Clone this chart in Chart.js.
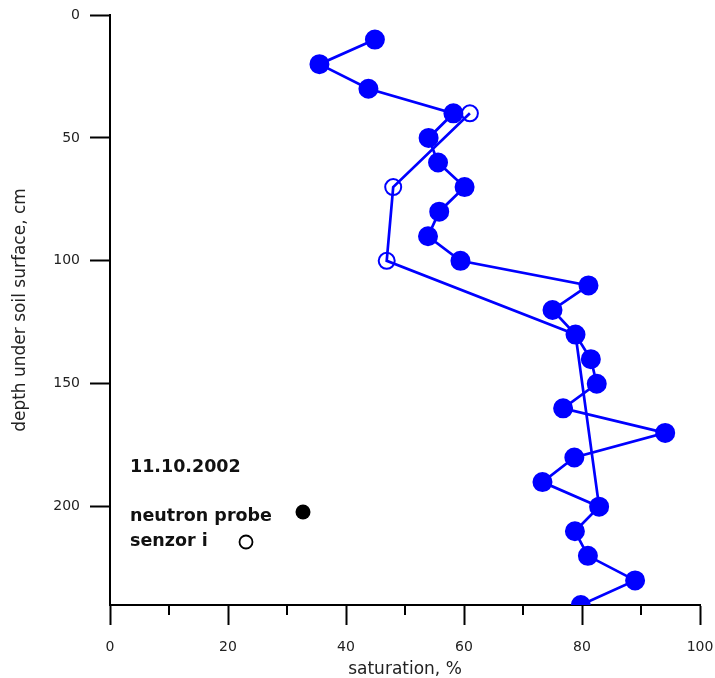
<!DOCTYPE html>
<html>
<head>
<meta charset="utf-8">
<script src="https://cdn.jsdelivr.net/npm/chart.js@4"></script>
<style>
  html, body { margin: 0; padding: 0; background: #fff; }
  #wrap { width: 715px; height: 678px; }
</style>
</head>
<body>
<div id="wrap"><canvas id="chart"></canvas></div>
<script>
// depth (cm) and saturation (%)
let probeDepth = [10, 20, 30, 40, 50, 60, 70, 80, 90, 100, 110, 120, 130, 140, 150, 160, 170, 180, 190, 200, 210, 220, 230, 240];
let probeSat = [44.9, 35.5, 43.8, 58.2, 54.0, 55.6, 60.1, 55.8, 53.9, 59.4, 81.1, 75.0, 78.9, 81.5, 82.5, 76.8, 94.1, 78.7, 73.3, 82.9, 78.8, 81.0, 89.0, 79.8];
let sensorDepth = [40, 70, 100, 130, 200];
let sensorSat = [61.0, 48.0, 46.9, 78.9, 82.9];
let minorTicks = [10, 30, 50, 70, 90];
let dateLabel = "11.10.2002";
let probeLabel = "neutron probe";
let sensorLabel = "senzor i";

let blue = "#0000ff";

function toPoints(xs, ys) {
  let pts = [];
  for (let i = 0; i < xs.length; i++) {
    pts.push({ x: xs[i], y: ys[i] });
  }
  return pts;
}

// short ticks between the labelled ones on the x axis
let minorTickPlugin = {
  id: "minorTicks",
  afterDraw(chart) {
    let ctx = chart.ctx;
    let xs = chart.scales.x;
    let y0 = chart.chartArea.bottom;
    ctx.save();
    ctx.strokeStyle = "#000";
    ctx.lineWidth = 2;
    minorTicks.forEach(v => {
      let px = Math.round(xs.getPixelForValue(v));
      ctx.beginPath();
      ctx.moveTo(px, y0);
      ctx.lineTo(px, y0 + 10);
      ctx.stroke();
    });
    ctx.restore();
  }
};

// the little legend block in the lower left
let noteLegendPlugin = {
  id: "noteLegend",
  afterDraw(chart) {
    let ctx = chart.ctx;
    let left = chart.chartArea.left;
    ctx.save();
    ctx.fillStyle = "#111";
    ctx.textBaseline = "middle";
    ctx.textAlign = "left";
    ctx.font = "bold 17.5px 'DejaVu Sans'";
    ctx.fillText(dateLabel, left + 20, 467);
    ctx.fillText(probeLabel, left + 20, 516);
    ctx.fillText(sensorLabel, left + 20, 541);

    ctx.beginPath();
    ctx.arc(left + 193, 512, 7.5, 0, Math.PI * 2);
    ctx.fillStyle = "#000";
    ctx.fill();

    ctx.beginPath();
    ctx.arc(left + 136, 542, 6.5, 0, Math.PI * 2);
    ctx.strokeStyle = "#000";
    ctx.lineWidth = 1.8;
    ctx.stroke();
    ctx.restore();
  }
};

let myChart = new Chart(document.getElementById("chart"), {
  type: "scatter",
  data: {
    datasets: [
      {
        label: probeLabel,
        data: toPoints(probeSat, probeDepth),
        showLine: true,
        borderColor: blue,
        backgroundColor: blue,
        borderWidth: 2.7,
        pointRadius: 9,
        pointBorderWidth: 2,
        pointBorderColor: blue,
        pointBackgroundColor: blue,
        tension: 0
      },
      {
        label: sensorLabel,
        data: toPoints(sensorSat, sensorDepth),
        showLine: true,
        borderColor: blue,
        backgroundColor: "rgba(0,0,0,0)",
        borderWidth: 2.7,
        pointRadius: 8,
        pointBorderWidth: 2,
        pointBorderColor: blue,
        pointBackgroundColor: "rgba(0,0,0,0)",
        tension: 0
      }
    ]
  },
  options: {
    responsive: true,
    maintainAspectRatio: false,
    animation: false,
    layout: { padding: { top: 15, right: 15, left: 0, bottom: 0 } },
    plugins: {
      legend: { display: false },
      tooltip: { enabled: false }
    },
    scales: {
      x: {
        type: "linear",
        position: "bottom",
        min: 0,
        max: 100,
        afterFit(scale) {
          scale.height = 73;
          scale.paddingLeft = 0;
          scale.paddingRight = 0;
        },
        border: { display: true, color: "#000", width: 2 },
        grid: {
          display: true,
          drawOnChartArea: false,
          drawTicks: true,
          tickLength: 20,
          tickColor: "#000",
          tickWidth: 2
        },
        ticks: {
          stepSize: 20,
          padding: 14,
          color: "#222",
          font: { family: "'DejaVu Sans'", size: 14 },
          maxRotation: 0
        },
        title: {
          display: true,
          text: "saturation, %",
          color: "#222",
          font: { family: "'DejaVu Sans'", size: 17, lineHeight: 1.0 },
          padding: { top: 0, bottom: 0 }
        }
      },
      y: {
        type: "linear",
        position: "left",
        reverse: true,
        min: 0,
        max: 240,
        afterFit(scale) {
          scale.width = 110;
          scale.paddingTop = 0;
          scale.paddingBottom = 0;
        },
        border: { display: true, color: "#000", width: 2 },
        grid: {
          display: true,
          drawOnChartArea: false,
          drawTicks: true,
          tickLength: 20,
          tickColor: "#000",
          tickWidth: 2
        },
        ticks: {
          stepSize: 50,
          includeBounds: false,
          padding: 10,
          color: "#222",
          font: { family: "'DejaVu Sans'", size: 14 }
        },
        title: {
          display: true,
          text: "depth under soil surface, cm",
          color: "#222",
          font: { family: "'DejaVu Sans'", size: 17 },
          padding: { top: 10, bottom: 0 }
        }
      }
    }
  },
  plugins: [minorTickPlugin, noteLegendPlugin]
});
</script>
</body>
</html>
